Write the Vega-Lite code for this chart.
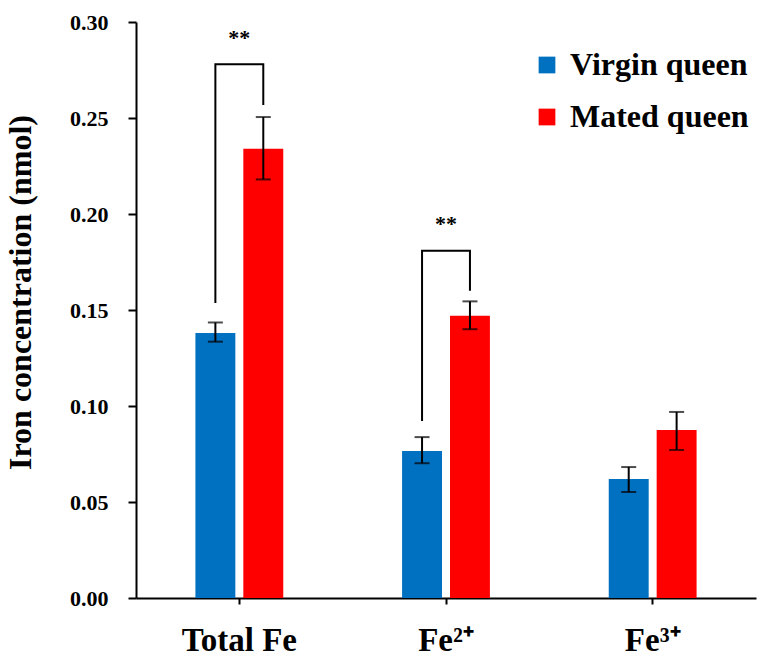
{
  "$schema": "https://vega.github.io/schema/vega-lite/v6.json",
  "width": 620,
  "height": 576,
  "autosize": "none",
  "padding": {"left": 136, "top": 22, "right": 11, "bottom": 65},
  "background": "white",
  "config": {
    "view": {"stroke": null},
    "font": "Liberation Serif"
  },
  "datasets": {
    "bars": [
      {"cat": "Total Fe", "group": "Virgin queen", "mean": 0.138, "lo": 0.1335, "hi": 0.1435},
      {"cat": "Total Fe", "group": "Mated queen", "mean": 0.234, "lo": 0.218, "hi": 0.2505},
      {"cat": "Fe²⁺", "group": "Virgin queen", "mean": 0.0765, "lo": 0.0702, "hi": 0.0838},
      {"cat": "Fe²⁺", "group": "Mated queen", "mean": 0.147, "lo": 0.1400, "hi": 0.1545},
      {"cat": "Fe³⁺", "group": "Virgin queen", "mean": 0.062, "lo": 0.0552, "hi": 0.0682},
      {"cat": "Fe³⁺", "group": "Mated queen", "mean": 0.0875, "lo": 0.0771, "hi": 0.0969}
    ],
    "brackets": [
      {"id": "a", "seq": 1, "cat": "Total Fe", "group": "Virgin queen", "y": 0.1536},
      {"id": "a", "seq": 2, "cat": "Total Fe", "group": "Virgin queen", "y": 0.278},
      {"id": "a", "seq": 3, "cat": "Total Fe", "group": "Mated queen", "y": 0.278},
      {"id": "a", "seq": 4, "cat": "Total Fe", "group": "Mated queen", "y": 0.2568},
      {"id": "b", "seq": 1, "cat": "Fe²⁺", "group": "Virgin queen", "y": 0.0922},
      {"id": "b", "seq": 2, "cat": "Fe²⁺", "group": "Virgin queen", "y": 0.1809},
      {"id": "b", "seq": 3, "cat": "Fe²⁺", "group": "Mated queen", "y": 0.1809},
      {"id": "b", "seq": 4, "cat": "Fe²⁺", "group": "Mated queen", "y": 0.160}
    ],
    "stars": [
      {"cat": "Total Fe", "y": 0.2917, "label": "**"},
      {"cat": "Fe²⁺", "y": 0.1948, "label": "**"}
    ]
  },
  "encoding": {
    "x": {
      "field": "cat",
      "type": "nominal",
      "sort": ["Total Fe", "Fe²⁺", "Fe³⁺"],
      "scale": {"domain": ["Total Fe", "Fe²⁺", "Fe³⁺"], "paddingInner": 0.575, "paddingOuter": 0.2875},
      "axis": {
        "title": null,
        "labelAngle": 0,
        "labelFont": "Liberation Serif",
        "labelFontWeight": "bold",
        "labelFontSize": 33,
        "labelColor": "black",
        "labelPadding": 20,
        "tickSize": 6,
        "tickWidth": 2,
        "tickColor": "black",
        "domainColor": "black",
        "domainWidth": 2
      }
    }
  },
  "layer": [
    {
      "data": {"name": "bars"},
      "mark": {"type": "bar"},
      "encoding": {
        "xOffset": {
          "field": "group",
          "type": "nominal",
          "sort": ["Virgin queen", "Mated queen"],
          "scale": {"domain": ["Virgin queen", "Mated queen"], "paddingInner": 0.1667, "paddingOuter": 0}
        },
        "y": {
          "field": "mean",
          "type": "quantitative",
          "scale": {"domain": [0, 0.3], "nice": false},
          "axis": {
            "title": "Iron concentration  (nmol)",
            "titleFont": "Liberation Serif",
            "titleFontWeight": "bold",
            "titleFontSize": 32,
            "titleColor": "black",
            "titleAngle": -90,
            "titleX": -116,
            "titleY": 270,
            "titleAlign": "center",
            "titleBaseline": "middle",
            "values": [0, 0.05, 0.1, 0.15, 0.2, 0.25, 0.3],
            "format": ".2f",
            "labelFont": "Liberation Serif",
            "labelFontWeight": "bold",
            "labelFontSize": 22,
            "labelColor": "black",
            "labelPadding": 20,
            "tickSize": 8,
            "tickWidth": 2,
            "tickColor": "black",
            "domainColor": "black",
            "domainWidth": 2,
            "grid": false
          }
        },
        "color": {
          "field": "group",
          "type": "nominal",
          "sort": ["Virgin queen", "Mated queen"],
          "scale": {"domain": ["Virgin queen", "Mated queen"], "range": ["#0070C0", "#FF0000"]},
          "legend": {
            "title": null,
            "orient": "none",
            "legendX": 395,
            "legendY": 27,
            "symbolType": "square",
            "symbolSize": 280,
            "symbolStrokeWidth": 0,
            "labelFont": "Liberation Serif",
            "labelFontWeight": "bold",
            "labelFontSize": 32,
            "labelColor": "black",
            "labelOffset": 7,
            "rowPadding": 20,
            "labelLimit": 400
          }
        }
      }
    },
    {
      "data": {"name": "bars"},
      "mark": {"type": "rule", "color": "black", "strokeWidth": 2},
      "encoding": {
        "xOffset": {"field": "group", "type": "nominal", "sort": ["Virgin queen", "Mated queen"]},
        "y": {"field": "lo", "type": "quantitative"},
        "y2": {"field": "hi"}
      }
    },
    {
      "data": {"name": "bars"},
      "mark": {"type": "tick", "color": "black", "size": 15, "thickness": 2, "orient": "horizontal"},
      "encoding": {
        "xOffset": {"field": "group", "type": "nominal", "sort": ["Virgin queen", "Mated queen"]},
        "y": {"field": "lo", "type": "quantitative"}
      }
    },
    {
      "data": {"name": "bars"},
      "mark": {"type": "tick", "color": "black", "size": 15, "thickness": 2, "orient": "horizontal"},
      "encoding": {
        "xOffset": {"field": "group", "type": "nominal", "sort": ["Virgin queen", "Mated queen"]},
        "y": {"field": "hi", "type": "quantitative"}
      }
    },
    {
      "data": {"name": "brackets"},
      "mark": {"type": "line", "color": "black", "strokeWidth": 2},
      "encoding": {
        "xOffset": {"field": "group", "type": "nominal", "sort": ["Virgin queen", "Mated queen"]},
        "y": {"field": "y", "type": "quantitative"},
        "detail": {"field": "id"},
        "order": {"field": "seq", "type": "quantitative"}
      }
    },
    {
      "data": {"name": "stars"},
      "mark": {"type": "text", "font": "Liberation Serif", "fontWeight": "bold", "fontSize": 22, "color": "black", "baseline": "middle", "align": "center"},
      "encoding": {
        "y": {"field": "y", "type": "quantitative"},
        "text": {"field": "label"}
      }
    }
  ]
}
